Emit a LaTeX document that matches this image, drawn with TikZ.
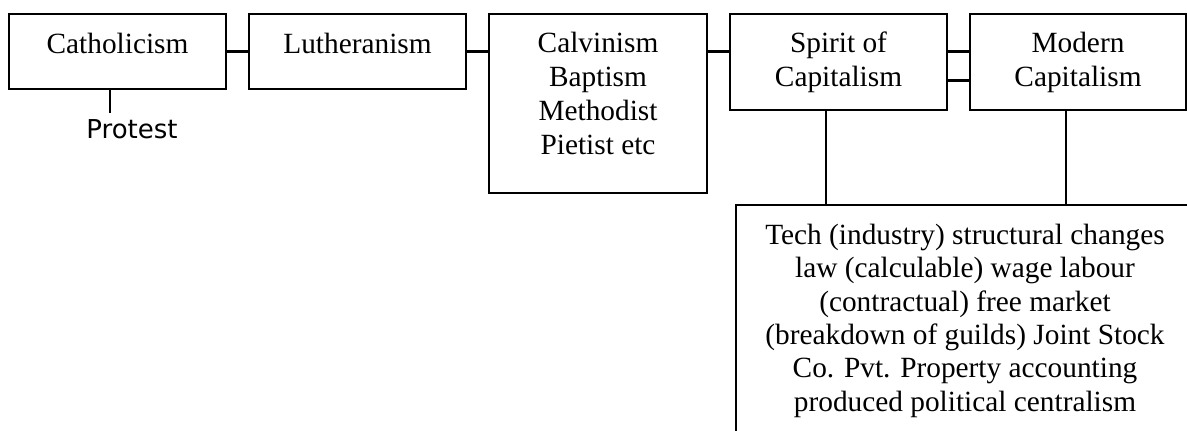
\documentclass[tikz,border=0pt]{standalone}
\usepackage{fontspec}
\setmainfont{Liberation Serif}
\newfontfamily\protfont{DejaVu Sans}
\begin{document}
\begin{tikzpicture}[x=0.75pt,y=-0.75pt,
  box/.style={draw=black, line width=1.7pt, inner sep=0pt},
  lbl/.style={font=\fontsize{22pt}{25.5pt}\selectfont, align=center, inner sep=0pt, anchor=north},
  link/.style={draw=black, line width=1.7pt}]
\useasboundingbox (0,0) rectangle (1187,430);
\clip (0,0) rectangle (1187,430);
% boxes
\node[box, minimum width=162.75pt, minimum height=56.25pt] (cath) at (117.5,51.5) {};
\node[box, minimum width=162.75pt, minimum height=56.25pt] (luth) at (357.5,51.5) {};
\node[box, minimum width=163.5pt, minimum height=134.25pt] (calv) at (598,103.5) {};
\node[box, minimum width=162.75pt, minimum height=72pt] (spirit) at (838.5,62) {};
\node[box, minimum width=162pt, minimum height=72pt] (modern) at (1078,62) {};
\node[box, minimum width=343.5pt, minimum height=191.25pt] (bot) at (965,332.5) {};
% texts
\node[lbl] (cathT) at (117.5,33) {Catholicism};
\node[lbl] (luthT) at (357.5,33) {Lutheranism};
\node[lbl] (calvT) at (598,32) {Calvinism\\Baptism\\Methodist\\Pietist etc};
\node[lbl] (spiritT) at (838.5,32) {Spirit of\\Capitalism};
\node[lbl] (modernT) at (1078,32) {Modern\\Capitalism};
\node[lbl, font=\fontsize{22pt}{25pt}\selectfont] (botT) at (965,224) {Tech (industry) structural changes\\law (calculable) wage labour\\(contractual) free market\\(breakdown of guilds) Joint Stock\\Co. Pvt. Property accounting\\produced political centralism};
\node[font=\protfont\fontsize{19.5pt}{22pt}\selectfont, anchor=base, inner sep=0pt] (prot) at (132,138) {Protest};
% helper coordinates
\coordinate (r1) at (0,51.5);
\coordinate (r2) at (0,80.5);
\coordinate (v1) at (826,0);
\coordinate (v2) at (1066,0);
\coordinate (tk) at (110,113);
% connectors
\draw[link] (cath.east) -- (luth.west);
\draw[link] (luth.east) -- (luth.east -| calv.west);
\draw[link] (calv.east |- r1) -- (spirit.west |- r1);
\draw[link] (spirit.east |- r1) -- (modern.west |- r1);
\draw[link] (spirit.east |- r2) -- (modern.west |- r2);
\draw[link] (spirit.south -| v1) -- (bot.north -| v1);
\draw[link] (modern.south -| v2) -- (bot.north -| v2);
\draw[link] (cath.south -| tk) -- (tk);
\end{tikzpicture}
\end{document}
